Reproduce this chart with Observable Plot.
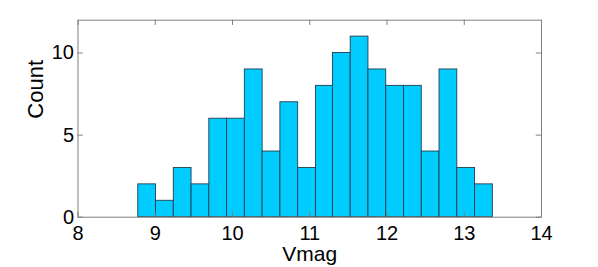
<!DOCTYPE html>
<html>
<head>
<meta charset="utf-8">
<script src="https://cdn.jsdelivr.net/npm/d3@7"></script>
<script src="https://cdn.jsdelivr.net/npm/@observablehq/plot@0.6"></script>
<style>
  html, body { margin: 0; padding: 0; background: #fff; }
  svg { font-family: "Liberation Sans", Arial, sans-serif; }
</style>
</head>
<body>
<div id="chart"></div>
<script>
const binEdges = [8.78, 9.01, 9.24, 9.47, 9.70, 9.93, 10.16, 10.39, 10.62, 10.85, 11.08,
                  11.30, 11.53, 11.76, 11.99, 12.22, 12.45, 12.68, 12.91, 13.14, 13.37];
const counts = [2, 1, 3, 2, 6, 6, 9, 4, 7, 3, 8, 10, 11, 9, 8, 8, 4, 9, 3, 2];
const xTicks = [8, 9, 10, 11, 12, 13, 14];
const yTicks = [0, 5, 10];

const bins = counts.map((c, i) => ({x1: binEdges[i], x2: binEdges[i + 1], count: c}));

const frameColor = "#808080";
const chart = Plot.plot({
  width: 598,
  height: 267,
  marginLeft: 77.5,
  marginRight: 57,
  marginTop: 19.7,
  marginBottom: 50.3,
  style: {fontFamily: "'Liberation Sans', Arial, sans-serif", background: "#fff"},
  x: {domain: [8, 14]},
  y: {domain: [0, 12]},
  marks: [
    Plot.rectY(bins, {x1: "x1", x2: "x2", y: "count", fill: "#00ccff", stroke: "#1f3f4f", strokeWidth: 0.9}),
    Plot.frame({stroke: frameColor, strokeWidth: 1}),
    Plot.ruleX(xTicks, {x: d => d, y1: 0, y2: 0.32, stroke: frameColor}),
    Plot.ruleX(xTicks, {x: d => d, y1: 12, y2: 11.68, stroke: frameColor}),
    Plot.ruleY(yTicks, {y: d => d, x1: 8, x2: 8.068, stroke: frameColor}),
    Plot.ruleY(yTicks, {y: d => d, x1: 14, x2: 13.932, stroke: frameColor}),
    Plot.axisX(xTicks, {tickSize: 0, tickPadding: 9, fontSize: 20, label: null, color: "#000"}),
    Plot.axisY(yTicks, {tickSize: 0, tickPadding: 4, fontSize: 20, label: null, color: "#000"}),
    Plot.text(["Vmag"], {frameAnchor: "bottom", lineAnchor: "middle", dy: 37.5, fontSize: 21, fill: "#000"}),
    Plot.text(["Count"], {frameAnchor: "left", lineAnchor: "middle", rotate: -90, dx: -42.5, fontSize: 22, fill: "#000"})
  ]
});
document.getElementById("chart").appendChild(chart);
</script>
</body>
</html>
